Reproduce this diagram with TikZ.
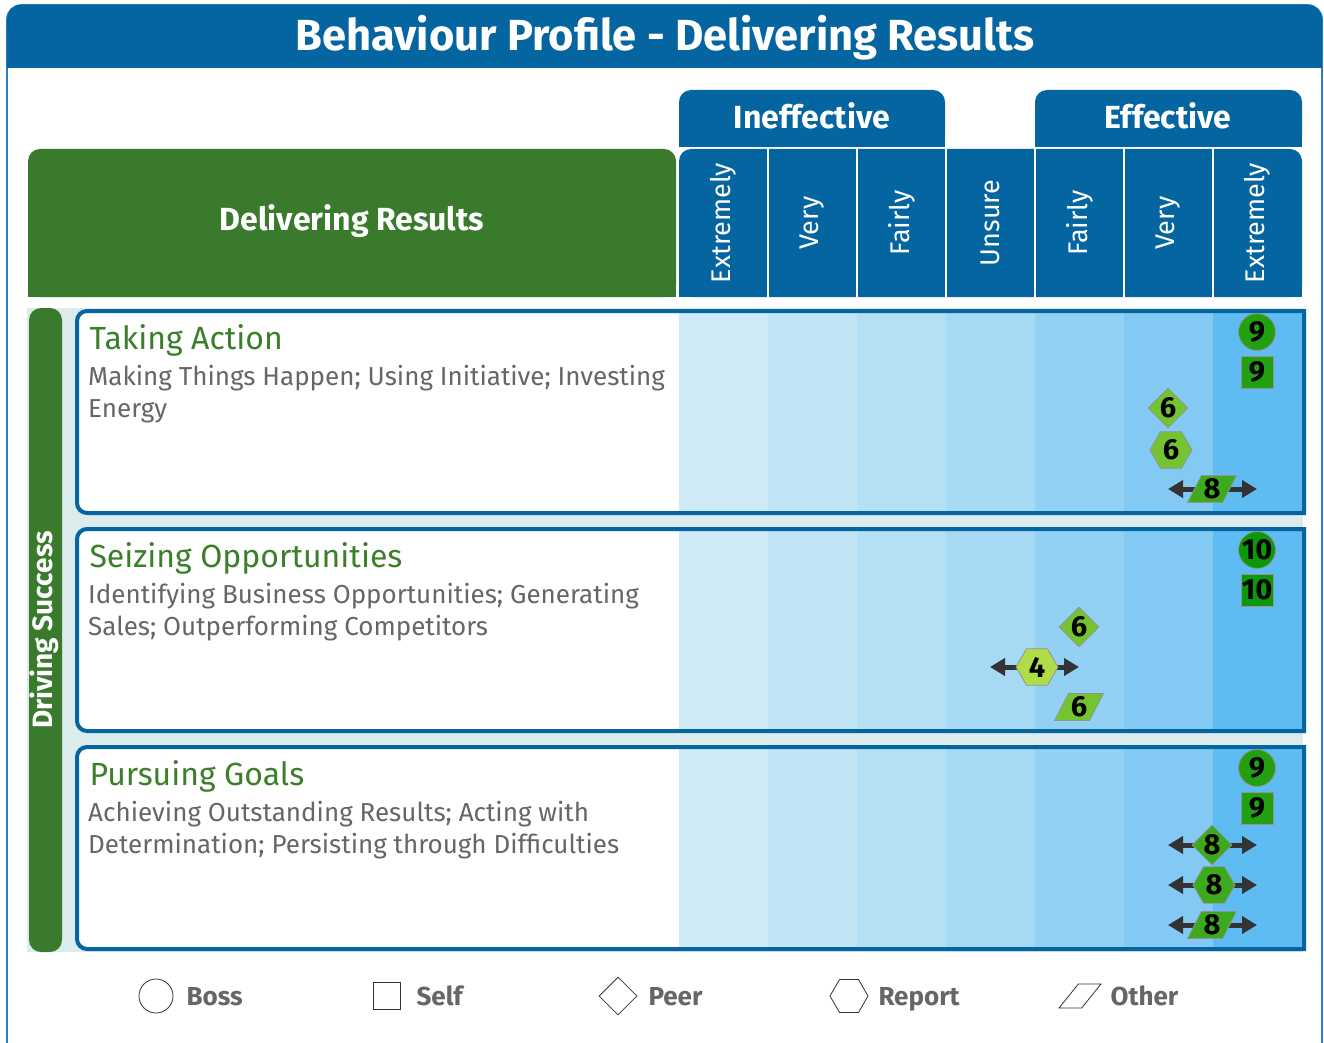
\documentclass[tikz,border=0pt]{standalone}
\usepackage{fontspec}
\setmainfont{Fira Sans}
\usetikzlibrary{shapes.geometric,arrows.meta}

\definecolor{hdrblue}{HTML}{0565A0}
\definecolor{frameblue}{HTML}{2A7FC0}
\definecolor{hdrgreen}{HTML}{3A7A2C}
\definecolor{titlegreen}{HTML}{3C7F2A}
\definecolor{txtgrey}{HTML}{666666}
\definecolor{palebg}{HTML}{DCEBEB}
\definecolor{arrowgrey}{HTML}{333333}
\definecolor{bandA}{HTML}{CFEAF6}
\definecolor{bandB}{HTML}{C2E5F6}
\definecolor{bandC}{HTML}{B4DFF5}
\definecolor{bandD}{HTML}{A6D9F3}
\definecolor{bandE}{HTML}{92D1F3}
\definecolor{bandF}{HTML}{82CAF3}
\definecolor{bandG}{HTML}{5EBCF3}
\definecolor{scoreX}{HTML}{0C980A}
\definecolor{scoreIX}{HTML}{22A012}
\definecolor{scoreVIII}{HTML}{3CAA1C}
\definecolor{scoreVI}{HTML}{74C432}
\definecolor{scoreIV}{HTML}{B0DC48}

\tikzset{
	markbase/.style={draw=gray!85, line width=0.8pt, text=black, inner sep=0pt,
		font=\fontsize{29}{29}\selectfont\bfseries},
	boss/.style={markbase, circle, minimum size=37pt},
	self/.style={markbase, rectangle, minimum size=32pt},
	peer/.style={markbase, diamond, minimum width=40pt, minimum height=40pt},
	report/.style={markbase, regular polygon, regular polygon sides=6, minimum size=42pt},
	other/.style={markbase, trapezium, trapezium left angle=62, trapezium right angle=118,
		trapezium stretches=true, minimum width=49pt, minimum height=27pt},
	spread/.style={{Triangle[length=15pt,width=17pt]}-{Triangle[length=15pt,width=17pt]},
		line width=5pt, draw=arrowgrey},
	legendmark/.style={draw=black!80, line width=0.8pt, fill=white, inner sep=1pt},
	legendtext/.style={anchor=base west, text=txtgrey, font=\fontsize{26}{26}\selectfont\bfseries}
}

\begin{document}
\begin{tikzpicture}[x=1pt,y=-1pt]
	\useasboundingbox (0,0) rectangle (1324,1043);

	% frame and title bar
	\draw[frameblue, line width=1.6pt, rounded corners=14pt] (7,1070) -- (7,5) -- (1322,5) -- (1322,1070);
	\fill[hdrblue, rounded corners=14pt] (7,5) rectangle (1322,68);
	\fill[hdrblue] (7,40) rectangle (1322,68);
	\node[text=white, font=\fontsize{43.5}{44}\selectfont\bfseries] (title) at (665,38) {Behaviour Profile - Delivering Results};

	% scale headers
	\fill[hdrblue, rounded corners=12pt] (679,90) rectangle (945,147);
	\fill[hdrblue] (679,120) rectangle (945,147);
	\node[text=white, font=\fontsize{32}{32}\selectfont\bfseries] (ineff) at (812,116) {Ineffective};
	\fill[hdrblue, rounded corners=12pt] (1035,90) rectangle (1302,147);
	\fill[hdrblue] (1035,120) rectangle (1302,147);
	\node[text=white, font=\fontsize{32}{32}\selectfont\bfseries] (eff) at (1168,116) {Effective};

	\fill[hdrblue, rounded corners=12pt] (679,149) rectangle (1302,297);
	\fill[hdrblue] (679,200) rectangle (1302,297);
	\foreach \i in {1,...,6}
		\fill[white] (679+89*\i-1,149) rectangle ++(2,148);
	\foreach \i/\lbl in {1/Extremely,2/Very,3/Fairly,4/Unsure,5/Fairly,6/Very,7/Extremely}
		\node[rotate=90, text=white, font=\fontsize{27}{27}\selectfont] (col\i) at (679+89*\i-44.5,223) {\lbl};

	\fill[hdrgreen, rounded corners=12pt] (28,149) rectangle (676,297);
	\fill[hdrgreen] (28,200) rectangle (676,297);
	\node[text=white, font=\fontsize{32}{32}\selectfont\bfseries] (group) at (352,221) {Delivering Results};

	% left strip
	\fill[palebg] (27,308) rectangle (1303,952);
	\fill[hdrgreen, rounded corners=12pt] (29,308) rectangle (62,952);
	\node[rotate=90, text=white, font=\fontsize{28}{28}\selectfont\bfseries] (cluster) at (44,630) {Driving Success};

	% behaviour rows
	\foreach \y/\nm/\ttl/\dsc in {311/ta/Taking Action/{Making Things Happen; Using Initiative; Investing\\Energy},
		529/so/Seizing Opportunities/{Identifying Business Opportunities; Generating\\Sales; Outperforming Competitors},
		747/pg/Pursuing Goals/{Achieving Outstanding Results; Acting with\\Determination; Persisting through Difficulties}}
	{
		\fill[white] (1304,\y) -- (87,\y) arc[start angle=270, end angle=180, radius=10]
			-- (77,\y+192) arc[start angle=180, end angle=90, radius=10] -- (1304,\y+202) -- cycle;
		\foreach \i/\c in {0/bandA,1/bandB,2/bandC,3/bandD,4/bandE,5/bandF,6/bandG}
			\fill[\c] (679+89*\i,\y) rectangle ++(89,202);
		\fill[bandG] (1302,\y) rectangle (1304,\y+202);
		\draw[hdrblue, line width=4pt] (1304,\y) -- (87,\y) arc[start angle=270, end angle=180, radius=10]
			-- (77,\y+192) arc[start angle=180, end angle=90, radius=10] -- (1304,\y+202) -- cycle;
		\node[anchor=base west, text=titlegreen, font=\fontsize{32}{32}\selectfont] (\nm-title) at (86,\y+38) {\ttl};
		\node[anchor=north west, align=left, text=txtgrey, inner sep=0pt,
			font=\fontsize{26}{32}\selectfont] (\nm-desc) at (88,\y+54) {\dsc};
	}

	% Taking Action markers
	\node[boss, fill=scoreIX] (ta-b) at (1257,332) {9};
	\node[self, fill=scoreIX] (ta-s) at (1257,372) {9};
	\node[peer, fill=scoreVI] (ta-p) at (1168,408) {6};
	\node[report, fill=scoreVI] (ta-r) at (1171,450) {6};
	\coordinate (ta-o-l) at (1168,489);
	\coordinate (ta-o-h) at (1257,489);
	\draw[spread] (ta-o-l) -- (ta-o-h);
	\node[other, fill=scoreVIII] (ta-o) at (1212,489) {8};

	% Seizing Opportunities markers
	\node[boss, fill=scoreX] (so-b) at (1257,550) {10};
	\node[self, fill=scoreX] (so-s) at (1257,590) {10};
	\node[peer, fill=scoreVI] (so-p) at (1079,627) {6};
	\coordinate (so-r-l) at (990,667);
	\coordinate (so-r-h) at (1079,667);
	\draw[spread] (so-r-l) -- (so-r-h);
	\node[report, fill=scoreIV] (so-r) at (1037,667) {4};
	\node[other, fill=scoreVI] (so-o) at (1079,707) {6};

	% Pursuing Goals markers
	\node[boss, fill=scoreIX] (pg-b) at (1257,768) {9};
	\node[self, fill=scoreIX] (pg-s) at (1257,808) {9};
	\coordinate (pg-p-l) at (1168,845);
	\coordinate (pg-p-h) at (1257,845);
	\draw[spread] (pg-p-l) -- (pg-p-h);
	\node[peer, fill=scoreVIII] (pg-p) at (1212,845) {8};
	\coordinate (pg-r-l) at (1168,885);
	\coordinate (pg-r-h) at (1257,885);
	\draw[spread] (pg-r-l) -- (pg-r-h);
	\node[report, fill=scoreVIII] (pg-r) at (1214,885) {8};
	\coordinate (pg-o-l) at (1168,925);
	\coordinate (pg-o-h) at (1257,925);
	\draw[spread] (pg-o-l) -- (pg-o-h);
	\node[other, fill=scoreVIII] (pg-o) at (1212,925) {8};

	% legend
	\node[legendmark, circle, minimum size=34pt] (lg-boss) at (156,996) {};
	\node[legendtext] (lg-boss-t) at (183,1005) {Boss};
	\node[legendmark, rectangle, minimum size=27pt] (lg-self) at (387,996) {};
	\node[legendtext] (lg-self-t) at (413,1005) {Self};
	\node[legendmark, diamond, minimum width=38pt, minimum height=38pt] (lg-peer) at (618,996) {};
	\node[legendtext] (lg-peer-t) at (645,1005) {Peer};
	\node[legendmark, regular polygon, regular polygon sides=6, minimum size=38pt] (lg-rep) at (849,996) {};
	\node[legendtext] (lg-rep-t) at (875,1005) {Report};
	\node[legendmark, trapezium, trapezium left angle=50, trapezium right angle=130,
		trapezium stretches=true, minimum width=42pt, minimum height=24pt] (lg-oth) at (1080,996) {\strut};
	\node[legendtext] (lg-oth-t) at (1107,1005) {Other};
\end{tikzpicture}
\end{document}
